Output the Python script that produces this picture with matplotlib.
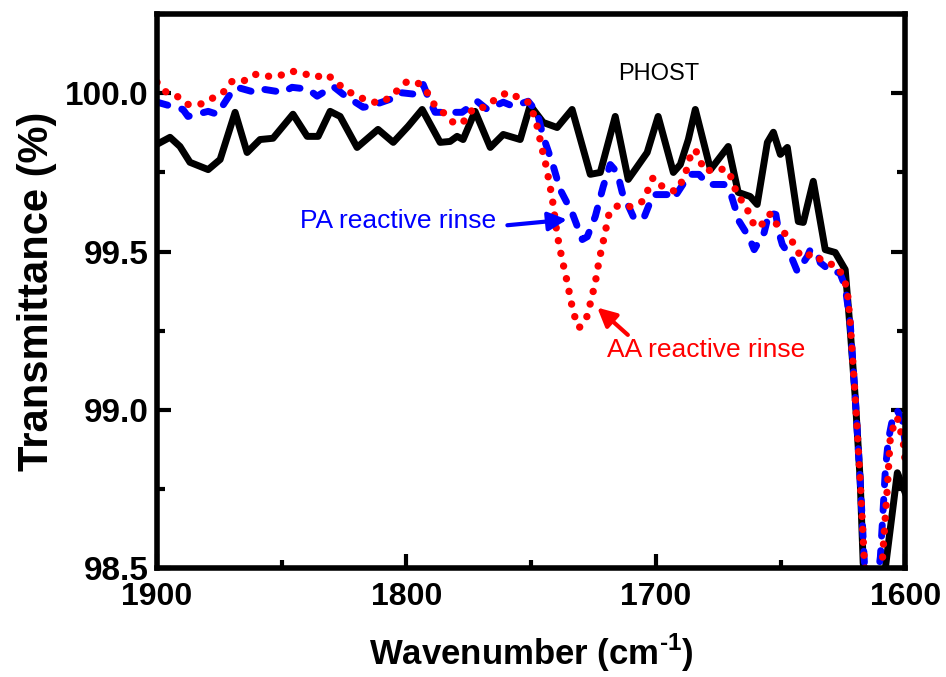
import matplotlib
matplotlib.use('Agg')
import matplotlib.pyplot as plt
from matplotlib.ticker import MultipleLocator, FormatStrFormatter

plt.rcParams['font.family'] = ['Liberation Sans', 'DejaVu Sans']
plt.rcParams['mathtext.fontset'] = 'custom'
plt.rcParams['mathtext.rm'] = 'Liberation Sans:bold'
plt.rcParams['mathtext.bf'] = 'Liberation Sans:bold'

# PHOST (black, solid)
phost_x = [1900, 1894.8, 1890.8, 1886.8, 1879.5, 1874.7, 1868.7, 1863.9, 1858.7, 1853.5,
           1845.5, 1839.8, 1835.4, 1830.6, 1826.6, 1819.8, 1811.4, 1805.3, 1799.3, 1793.7,
           1786.5, 1782.5, 1779.7, 1777.3, 1772.5, 1766.4, 1761.2, 1754.4, 1750.4, 1745.2,
           1739.6, 1733.6, 1726.3, 1722.3, 1716.3, 1711.1, 1708.3, 1703.5, 1699.1, 1693.0,
           1690.2, 1687.0, 1684.2, 1678.1, 1671.0, 1667.0, 1662.2, 1659.4, 1655.3, 1652.9,
           1650.1, 1647.3, 1642.9, 1640.9, 1636.9, 1632.1, 1628.1, 1624.1, 1622.1, 1620.1,
           1618.1, 1616.9, 1612.8, 1610.0, 1608.0, 1603.2, 1600.0]
phost_y = [99.839, 99.861, 99.832, 99.782, 99.759, 99.791, 99.940, 99.813, 99.854, 99.858,
           99.934, 99.864, 99.864, 99.943, 99.927, 99.829, 99.886, 99.845, 99.896, 99.949,
           99.845, 99.848, 99.864, 99.854, 99.943, 99.829, 99.870, 99.854, 99.962, 99.908,
           99.892, 99.949, 99.744, 99.750, 99.927, 99.728, 99.759, 99.813, 99.927, 99.750,
           99.775, 99.854, 99.949, 99.759, 99.832, 99.687, 99.674, 99.649, 99.845, 99.877,
           99.807, 99.829, 99.595, 99.592, 99.722, 99.506, 99.497, 99.443, 99.253, 99.041,
           98.778, 98.516, 98.30, 98.35, 98.50, 98.801, 98.737]

# PA reactive rinse (blue, dashed)
pa_x = [1900, 1889.6, 1887.6, 1879.5, 1875.9, 1870.7, 1867.9, 1860.7, 1857.5, 1849.5,
        1845.9, 1839.4, 1835.8, 1829.4, 1825.4, 1817.4, 1814.6, 1806.6, 1803.3, 1796.5,
        1793.3, 1790.5, 1788.5, 1781.7, 1777.7, 1771.7, 1767.6, 1761.2, 1757.2, 1751.2,
        1747.6, 1745.2, 1741.6, 1738.4, 1733.6, 1729.5, 1727.5, 1724.3, 1721.1, 1718.3,
        1715.5, 1713.5, 1709.1, 1705.1, 1701.1, 1695.5, 1693.1, 1688.7, 1686.7, 1682.7,
        1679.1, 1672.7, 1669.9, 1667.8, 1666.6, 1662.6, 1660.6, 1656.6, 1654.6, 1651.9,
        1650.7, 1649.3, 1645.3, 1643.3, 1639.3, 1638.1, 1635.3, 1634.1, 1629.3, 1626.3,
        1624.1, 1622.1, 1620.1, 1618.1, 1616.4, 1613.2, 1610.0, 1609.2, 1608.0, 1606.8,
        1604.8, 1603.2, 1601.2, 1600.0]
pa_y = [99.972, 99.949, 99.927, 99.943, 99.934, 99.997, 100.019, 100.003, 100.013, 100.003,
        100.019, 100.013, 99.991, 100.022, 99.997, 99.956, 99.959, 99.981, 100.003, 99.997,
        100.028, 99.972, 99.940, 99.940, 99.940, 99.975, 99.949, 99.972, 99.959, 99.975,
        99.940, 99.864, 99.782, 99.696, 99.623, 99.538, 99.547, 99.611, 99.706, 99.775,
        99.750, 99.687, 99.611, 99.601, 99.680, 99.680, 99.665, 99.718, 99.744, 99.744,
        99.712, 99.712, 99.680, 99.627, 99.595, 99.544, 99.506, 99.560, 99.623, 99.617,
        99.560, 99.522, 99.475, 99.437, 99.484, 99.506, 99.497, 99.465, 99.434, 99.434,
        99.389, 99.275, 99.041, 98.778, 98.516, 98.335, 98.535, 98.642, 98.810, 98.905,
        98.984, 98.997, 98.968, 98.889]

# AA reactive rinse (red, dotted)
aa_x = [1900, 1896.8, 1892.0, 1887.6, 1882.8, 1877.9, 1873.5, 1869.9, 1865.5, 1860.7,
        1855.9, 1851.5, 1845.9, 1841.4, 1836.6, 1831.8, 1827.8, 1823.4, 1818.6, 1813.8,
        1809.4, 1804.5, 1799.7, 1795.3, 1791.7, 1788.9, 1784.5, 1780.5, 1776.1, 1773.3,
        1768.5, 1764.4, 1759.6, 1755.2, 1751.2, 1749.2, 1747.6, 1745.6, 1744.4, 1743.2,
        1741.6, 1739.6, 1737.6, 1735.6, 1733.6, 1732.4, 1730.8, 1728.0, 1726.7, 1724.3,
        1722.7, 1720.7, 1718.7, 1715.1, 1710.3, 1705.5, 1703.1, 1701.1, 1697.1, 1692.2,
        1689.0, 1687.4, 1686.2, 1684.2, 1682.2, 1680.2, 1675.4, 1671.0, 1669.0, 1667.4,
        1664.2, 1662.2, 1660.2, 1656.1, 1654.1, 1651.3, 1649.3, 1646.1, 1644.5, 1641.3,
        1636.9, 1632.5, 1627.7, 1624.9, 1623.3, 1622.1, 1620.1, 1618.1, 1616.4, 1613.2,
        1609.2, 1607.2, 1606.0, 1604.8, 1603.2, 1602.0, 1600.8, 1600.0]
aa_y = [100.035, 100.006, 99.991, 99.965, 99.965, 99.984, 100.003, 100.038, 100.038, 100.060,
        100.054, 100.054, 100.070, 100.063, 100.051, 100.060, 100.032, 100.006, 99.987, 99.972,
        99.972, 100.003, 100.038, 100.032, 100.003, 99.965, 99.934, 99.902, 99.915, 99.953,
        99.956, 99.981, 100.003, 99.987, 99.972, 99.937, 99.896, 99.823, 99.785, 99.737,
        99.671, 99.554, 99.475, 99.405, 99.326, 99.291, 99.259, 99.285, 99.323, 99.402,
        99.475, 99.547, 99.623, 99.646, 99.642, 99.658, 99.696, 99.734, 99.703, 99.690,
        99.728, 99.766, 99.801, 99.823, 99.785, 99.753, 99.763, 99.756, 99.718, 99.677,
        99.649, 99.611, 99.576, 99.592, 99.620, 99.582, 99.560, 99.551, 99.513, 99.481,
        99.494, 99.465, 99.456, 99.421, 99.380, 99.275, 99.041, 98.778, 98.516, 98.335,
        98.525, 98.756, 98.915, 98.946, 98.975, 98.937, 98.896, 98.832]

fig = plt.figure(figsize=(9.46, 6.77), dpi=100)
ax = fig.add_axes([0.166, 0.161, 0.791, 0.818])

ax.plot(phost_x, phost_y, color='black', lw=5, solid_joinstyle='round')
ax.plot(pa_x, pa_y, color='#0000ff', lw=5, linestyle=(0, (1.6, 2.1)),
        dash_capstyle='round')
ax.plot(aa_x, aa_y, color='#ff0000', lw=5.3, linestyle=(0, (0.01, 1.75)),
        dash_capstyle='round')

ax.set_xlim(1900, 1600)
ax.set_ylim(98.5, 100.25)
ax.xaxis.set_major_locator(MultipleLocator(100))
ax.xaxis.set_minor_locator(MultipleLocator(50))
ax.yaxis.set_major_locator(MultipleLocator(0.5))
ax.yaxis.set_minor_locator(MultipleLocator(0.25))
ax.yaxis.set_major_formatter(FormatStrFormatter('%.1f'))

for s in ax.spines.values():
    s.set_linewidth(4)
ax.tick_params(which='major', direction='in', length=10, width=3,
               top=False, right=True)
ax.tick_params(which='minor', direction='in', length=6, width=3, right=True)
ax.tick_params(axis='x', pad=10, labelsize=23)
ax.tick_params(axis='y', pad=6, labelsize=24)
for lab in ax.get_xticklabels() + ax.get_yticklabels():
    lab.set_fontweight('bold')

ax.set_xlabel(r'Wavenumber (cm$^{\text{-1}}$)', fontsize=25, fontweight='bold', labelpad=14)
ax.set_ylabel('Transmittance (%)', fontsize=30, fontweight='bold', labelpad=6)

ax.text(1699, 100.06, 'PHOST', fontsize=17, color='black', ha='center', va='center')
ax.annotate('PA reactive rinse', xy=(1735.6, 99.601), xytext=(1803.3, 99.595),
            fontsize=19, color='#0000ff', ha='center', va='center',
            arrowprops=dict(arrowstyle='-|>', color='#0000ff', lw=3,
                            mutation_scale=28, shrinkA=6, shrinkB=0,
                            relpos=(1.0, 0.3)))
ax.annotate('AA reactive rinse', xy=(1723.5, 99.323), xytext=(1679.8, 99.19),
            fontsize=19, color='#ff0000', ha='center', va='center',
            arrowprops=dict(arrowstyle='-|>', color='#ff0000', lw=3,
                            mutation_scale=28, shrinkA=0, shrinkB=0,
                            relpos=(0.12, 1.0)))

fig.savefig('out.png', dpi=100)
